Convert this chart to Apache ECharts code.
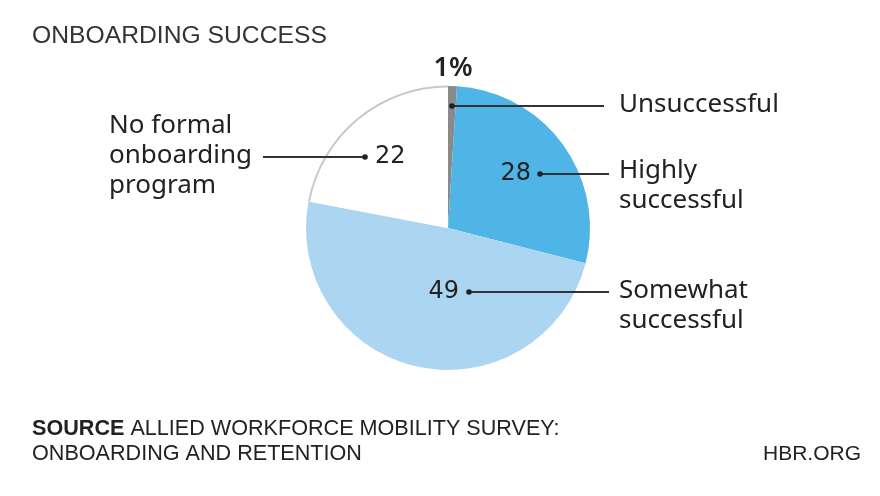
<!DOCTYPE html>
<html>
<head>
<meta charset="utf-8">
<script src="https://cdn.jsdelivr.net/npm/echarts@6/dist/echarts.min.js"></script>
<style>
html,body{margin:0;padding:0;background:#fff;}
#c{width:880px;height:496px;}
</style>
</head>
<body>
<div id="c"></div>
<script>
const title = 'ONBOARDING SUCCESS';
const categories = ['Unsuccessful', 'Highly successful', 'Somewhat successful', 'No formal onboarding program'];
const values = [1, 28, 49, 22];
const labelLines = [['Unsuccessful'], ['Highly', 'successful'], ['Somewhat', 'successful'], ['No formal', 'onboarding', 'program']];
const valueTexts = ['1%', '28', '49', '22'];
const colors = ['#8a8a8a', '#4fb4e6', '#acd5f1', '#ffffff'];
const outlineColors = ['rgba(0,0,0,0)', 'rgba(0,0,0,0)', 'rgba(0,0,0,0)', '#c8c8c8'];
const sourceBold = 'SOURCE';
const sourceText = ' ALLIED WORKFORCE MOBILITY SURVEY:';
const sourceLine2 = 'ONBOARDING AND RETENTION';
const brand = 'HBR.ORG';

const chart = echarts.init(document.getElementById('c'), null, {renderer: 'canvas'});
const txtFont = '"Noto Sans", "Open Sans", sans-serif';
const numFont = '"DejaVu Sans", sans-serif';
const footFont = '"Liberation Sans", Arial, sans-serif';
const ink = '#222';

function text(x, y, t, opts) {
  return {
    type: 'text', x: x, y: y, z: 100,
    style: Object.assign({text: t, fill: ink, font: '400 26px ' + txtFont, verticalAlign: 'middle', align: 'left'}, opts || {})
  };
}
function dot(x, y) {
  return {type: 'circle', z: 101, shape: {cx: x, cy: y, r: 2.8}, style: {fill: ink}};
}
function seg(x1, y1, x2, y2) {
  return {type: 'line', z: 100, shape: {x1: x1, y1: y1, x2: x2, y2: y2}, style: {stroke: '#333', lineWidth: 2}};
}

const g = [];
// title
g.push(text(32, 36, title, {font: '400 24.7px "Liberation Sans", Arial, sans-serif', fill: '#333'}));
// 1% label
g.push(text(453, 68, valueTexts[0], {font: '600 27px "Noto Sans", sans-serif', align: 'center'}));
// Unsuccessful
g.push(seg(452, 106, 604, 106), dot(452, 106));
g.push(text(619, 105, labelLines[0][0]));
// Highly successful
g.push(text(531, 174, valueTexts[1], {font: '400 24px ' + numFont, align: 'right'}));
g.push(seg(540, 174, 609, 174), dot(540, 174));
g.push(text(619, 171, labelLines[1][0]), text(619, 201, labelLines[1][1]));
// Somewhat successful
g.push(text(459, 292, valueTexts[2], {font: '400 24px ' + numFont, align: 'right'}));
g.push(seg(469, 292, 609, 292), dot(469, 292));
g.push(text(619, 291, labelLines[2][0]), text(619, 321, labelLines[2][1]));
// No formal
g.push(seg(263, 157, 365, 157), dot(365, 157));
g.push(text(375, 157, valueTexts[3], {font: '400 24px ' + numFont}));
g.push(text(109, 126, labelLines[3][0]), text(109, 156, labelLines[3][1]), text(109, 186, labelLines[3][2]));
// footer
g.push({
  type: 'text', x: 32, y: 429.5, z: 100,
  style: {
    text: '{b|' + sourceBold + '}' + sourceText,
    font: '400 21.6px ' + footFont, fill: '#222', verticalAlign: 'middle',
    rich: {b: {font: '700 21.6px ' + footFont, fill: '#222'}}
  }
});
g.push(text(32, 454.5, sourceLine2, {font: '400 21.6px ' + footFont}));
g.push(text(861, 454.5, brand, {font: '400 21px ' + footFont, align: 'right'}));

chart.setOption({
  animation: false,
  backgroundColor: '#fff',
  series: [{
    type: 'pie',
    center: [448, 228],
    radius: [0, 142],
    startAngle: 90,
    clockwise: true,
    silent: true,
    label: {show: false},
    labelLine: {show: false},
    emphasis: {disabled: true},
    data: categories.map((c, i) => ({name: c, value: values[i], itemStyle: {color: colors[i], borderWidth: 0}}))
  }, {
    type: 'pie',
    center: [448, 228],
    radius: [140.5, 142.5],
    startAngle: 90,
    clockwise: true,
    silent: true,
    label: {show: false},
    labelLine: {show: false},
    emphasis: {disabled: true},
    data: categories.map((c, i) => ({name: c, value: values[i], itemStyle: {color: outlineColors[i], borderWidth: 0}}))
  }],
  graphic: g
});
</script>
</body>
</html>
